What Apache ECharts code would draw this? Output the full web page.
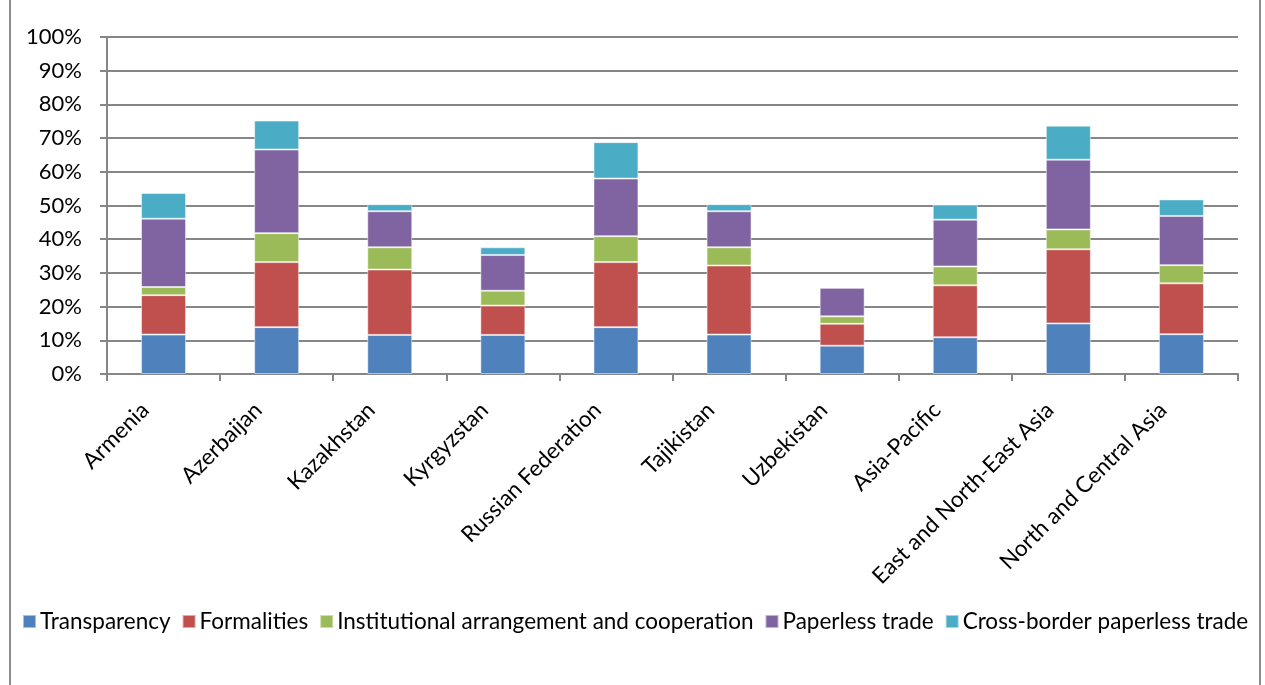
<!DOCTYPE html>
<html>
<head>
<meta charset="utf-8">
<script src="https://cdn.jsdelivr.net/npm/echarts@6/dist/echarts.min.js"></script>
<style>
  html, body { margin: 0; padding: 0; background: #fff; }
  #wrap { position: relative; width: 1265px; height: 685px; }
  #frame { position: absolute; left: 9px; top: -2px; width: 1252px; height: 700px; border: 2px solid #8c8c8c; box-sizing: border-box; pointer-events: none; }
  #chart { position: absolute; left: 0; top: 0; width: 1265px; height: 685px; }
</style>
</head>
<body>
<div id="wrap">
  <div id="chart"></div>
  <div id="frame"></div>
</div>
<script>
// Trade facilitation implementation by component (share of maximum score)
const categories = ['Armenia', 'Azerbaijan', 'Kazakhstan', 'Kyrgyzstan', 'Russian Federation',
  'Tajikistan', 'Uzbekistan', 'Asia-Pacific', 'East and North-East Asia', 'North and Central Asia'];

const transparency = [11.7, 13.9, 11.6, 11.6, 13.9, 11.7, 8.4, 10.9, 15.0, 11.8];
const formalities = [11.7, 19.3, 19.4, 8.7, 19.3, 20.5, 6.5, 15.4, 22.0, 15.1];
const institutional = [2.4, 8.6, 6.6, 4.4, 7.7, 5.4, 2.2, 5.6, 5.9, 5.4];
const paperless = [20.3, 24.8, 10.7, 10.6, 17.1, 10.7, 8.5, 13.9, 20.7, 14.6];
const crossBorder = [7.6, 8.6, 2.1, 2.3, 10.8, 2.1, 0, 4.5, 10.1, 4.9];

const seriesNames = ['Transparency', 'Formalities', 'Institutional arrangement and cooperation',
  'Paperless trade', 'Cross-border paperless trade'];
const seriesColors = ['#4f81bd', '#c0504d', '#9bbb59', '#8064a2', '#4bacc6'];
const seriesData = [transparency, formalities, institutional, paperless, crossBorder];

const font = 'Lato, "Open Sans", sans-serif';

const chart = echarts.init(document.getElementById('chart'), null, { renderer: 'canvas' });
chart.setOption({
  animation: false,
  grid: { left: 107, right: 27, top: 37, bottom: 311, containLabel: false },
  legend: {
    left: 22, top: 610, width: 1243, padding: 0,
    itemWidth: 13, itemHeight: 13, itemGap: 11,
    icon: 'rect',
    textStyle: { fontFamily: font, fontSize: 22.5, color: '#000', padding: [0, 0, 0, -1] },
    data: seriesNames
  },
  xAxis: {
    type: 'category',
    data: categories,
    axisLine: { lineStyle: { color: '#868686', width: 2 } },
    axisTick: { show: true, length: 7, lineStyle: { color: '#868686', width: 2 } },
    axisLabel: { rotate: 45, fontFamily: font, fontSize: 22.5, color: '#000', margin: 14, padding: [0, 26, 0, 0] }
  },
  yAxis: {
    type: 'value',
    min: 0, max: 100, interval: 10,
    axisLine: { show: true, lineStyle: { color: '#868686', width: 2 } },
    axisTick: { show: true, length: 7, lineStyle: { color: '#868686', width: 2 } },
    splitLine: { lineStyle: { color: '#868686', width: 2 } },
    axisLabel: { formatter: '{value}%', fontFamily: font, fontSize: 22, color: '#000', margin: 25 }
  },
  series: seriesNames.map((name, i) => ({
    name: name,
    type: 'bar',
    stack: 'total',
    barWidth: 45,
    itemStyle: { color: seriesColors[i], borderColor: 'rgba(255,255,255,0.5)', borderWidth: 1 },
    data: seriesData[i]
  }))
});
</script>
</body>
</html>
